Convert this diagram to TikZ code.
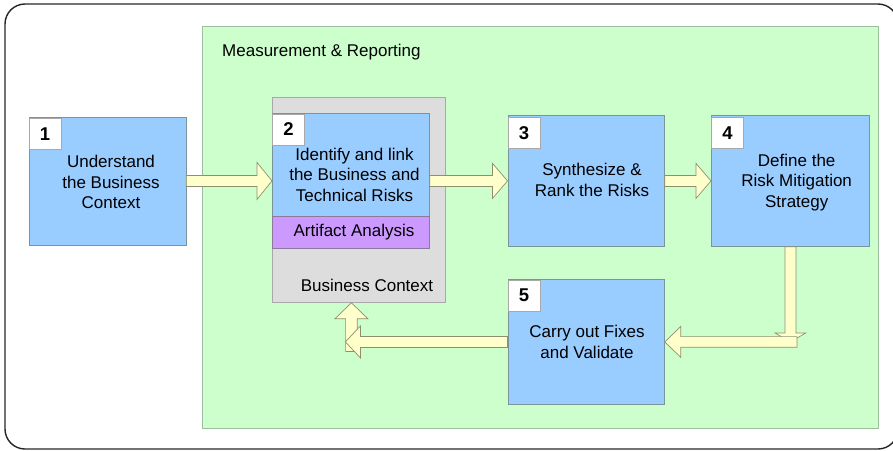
\documentclass[tikz,border=0pt]{standalone}
\usepackage{fontspec}
\setmainfont{Liberation Sans}
\usetikzlibrary{calc}

\definecolor{stepblue}{HTML}{99CCFF}
\definecolor{stepedge}{HTML}{7A9499}
\definecolor{zonegreen}{HTML}{CCFFCC}
\definecolor{zoneedge}{HTML}{9DBF9D}
\definecolor{ctxgray}{HTML}{DDDDDD}
\definecolor{ctxedge}{HTML}{A8A8A8}
\definecolor{artpurple}{HTML}{CC99FF}
\definecolor{artedge}{HTML}{8C7A9E}
\definecolor{flowfill}{HTML}{FFFFCC}
\definecolor{flowedge}{HTML}{8F8F70}

% fat block arrow: tail, tip, shaft half width, head half width, head length
\newcommand\fatarrow[5]{%
  \coordinate (fah) at ($(#2)!#5!(#1)$);
  \draw[fat] ($(#1)!#3!90:(#2)$) -- ($(fah)!#3!90:(#2)$) -- ($(fah)!#4!90:(#2)$)
    -- (#2) -- ($(fah)!#4!-90:(#2)$) -- ($(fah)!#3!-90:(#2)$)
    -- ($(#1)!#3!-90:(#2)$) -- cycle;}

\begin{document}
\begin{tikzpicture}[x=1pt,y=-1pt,
  txt/.style={font=\fontsize{17}{20.5}\selectfont, align=center, inner sep=0pt},
  stepbox/.style={draw=stepedge, fill=stepblue, line width=0.8pt, anchor=north west, inner sep=0pt},
  numbox/.style={draw=ctxedge, fill=white, line width=0.8pt, anchor=north west, inner sep=0pt,
    minimum width=32pt, minimum height=31pt, font=\fontsize{18.5}{20}\selectfont\bfseries},
  fat/.style={draw=flowedge, fill=flowfill, line width=0.7pt, line join=miter}]
\useasboundingbox (0,0) rectangle (893,450);

% outer frame
\draw[line width=1.4pt, draw=black!85, rounded corners=20pt] (5,4) rectangle (898,449);

% measurement & reporting zone
\node[draw=zoneedge, fill=zonegreen, line width=0.8pt, anchor=north west, inner sep=0pt,
  minimum width=675.5pt, minimum height=401.5pt] (zone) at (202,26) {};
\node[txt, anchor=base west] (zlabel) at (222,56.7) {Measurement \& Reporting};

% business context container
\node[draw=ctxedge, fill=ctxgray, line width=0.8pt, anchor=north west, inner sep=0pt,
  minimum width=173pt, minimum height=205pt] (gbox) at (272,97) {};
\node[txt, anchor=base] (gtext) at (367,291.7) {Business Context};

% steps
\node[stepbox, minimum width=157pt, minimum height=128pt] (b1) at (28.5,116.5) {};
\node[stepbox, minimum width=157pt, minimum height=103pt] (b2) at (272,113) {};
\node[draw=artedge, fill=artpurple, line width=0.8pt, anchor=north west, inner sep=0pt,
  minimum width=157pt, minimum height=32pt] (pa) at (272,216) {};
\node[stepbox, minimum width=156.5pt, minimum height=131pt] (b3) at (507.5,115) {};
\node[stepbox, minimum width=158pt, minimum height=131pt] (b4) at (711,115) {};
\node[stepbox, minimum width=156.5pt, minimum height=125pt] (b5) at (507.5,279) {};

% step numbers
\node[numbox] (n1) at ($(b1.north west)+(0,1.5)$) {1};
\node[numbox] (n2) at ($(b2.north west)+(0,0.5)$) {2};
\node[numbox] (n3) at ($(b3.north west)+(0,2)$) {3};
\node[numbox] (n4) at ($(b4.north west)+(0,2)$) {4};
\node[numbox] (n5) at ($(b5.north west)+(0,0.5)$) {5};

% step texts
\node[txt] (t1) at (111,182.3) {Understand\\the Business\\Context};
\node[txt] (t2) at (354.5,174.7) {Identify and link\\the Business and\\Technical Risks};
\node[txt, anchor=base] (ta) at (354,236.7) {Artifact Analysis};
\node[txt] (t3) at (592,180) {Synthesize \&\\Rank the Risks};
\node[txt] (t4) at (796.7,182.4) {Define the\\Risk Mitigation\\Strategy};
\node[txt] (t5) at (587,341.7) {Carry out Fixes\\and Validate};

% flow arrows
\fatarrow{b1.east}{b2.west |- b1.east}{5.5pt}{18.5pt}{15pt}
\coordinate (a2s) at (b2.east |- b3.west);
\fatarrow{a2s}{b3.west}{5.5pt}{17.5pt}{15pt}
\fatarrow{b3.east}{b4.west}{5.5pt}{17.5pt}{15pt}

\coordinate (turn) at (b4.south |- b5.east);
\fatarrow{b4.south}{turn}{5.5pt}{15.5pt}{9pt}
\coordinate (a5s) at ($(turn)+(6.5,0)$);
\fatarrow{a5s}{b5.east}{5.3pt}{15.5pt}{16pt}

\coordinate (up) at ($(gbox.south)+(-7.5,0)$);
\coordinate (ret) at (up |- b5.west);
\coordinate (upfoot) at ($(ret)+(0,9.5)$);
\fatarrow{upfoot}{up}{5.8pt}{16.5pt}{16pt}
\coordinate (rettip) at ($(ret)+(-6,0)$);
\fatarrow{b5.west}{rettip}{5.5pt}{16pt}{15pt}
\end{tikzpicture}
\end{document}
